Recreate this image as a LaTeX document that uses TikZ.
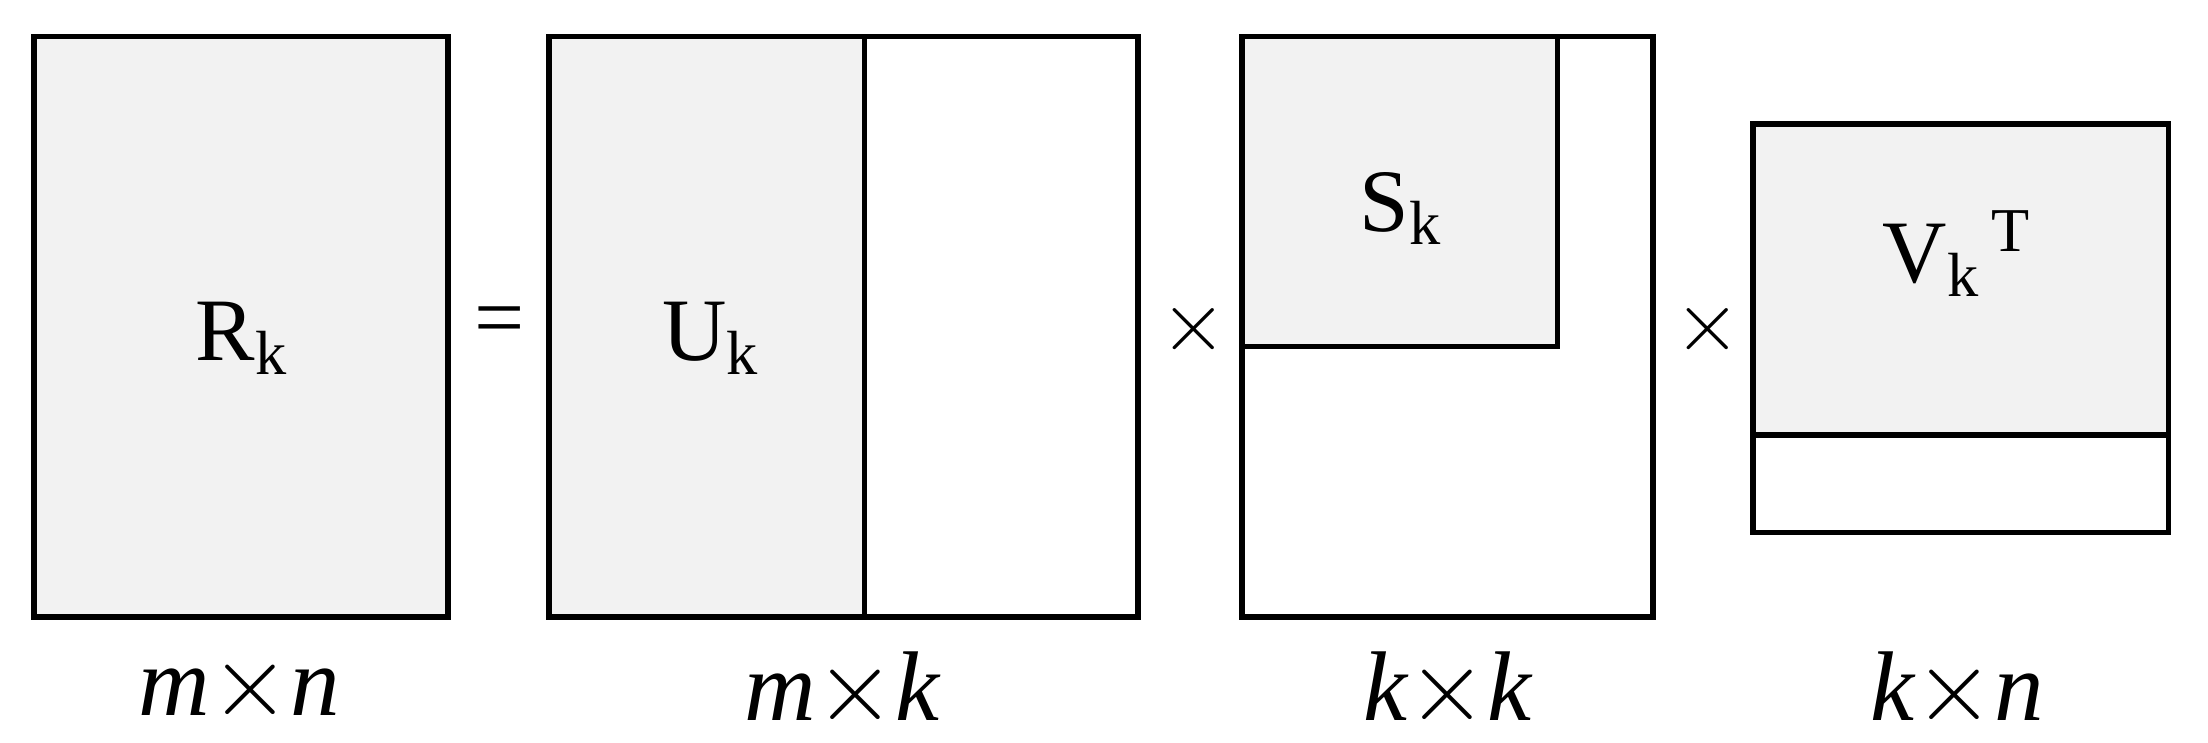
\documentclass[tikz,border=0pt]{standalone}
\usepackage{fontspec}
\setmainfont{Liberation Serif}
\begin{document}
\begin{tikzpicture}[x=0.01cm,y=-0.01cm,
  mat/.style={draw=black,line width=1.1pt},
  sh/.style={fill=gray!10},
  lab/.style={font=\fontsize{18}{20}\selectfont},
  dim/.style={font=\fontsize{20}{22}\selectfont\itshape}]
\useasboundingbox (0,0) rectangle (1568,527);
\path[mat,sh] (24,26) rectangle (318,438);
\node[lab] (r) at (172,240) {R\textsubscript{k}};
\node[lab] (eq) at (355,232) {=};
\path[mat,sh] (390,26) rectangle (614,438);
\path[mat] (614,26) rectangle (808,438);
\node[lab] (u) at (505,240) {U\textsubscript{k}};
\node[lab] (x1) at (848,234) {$\times$};
\path[mat] (882,26) rectangle (1174,438);
\path[mat,sh] (882,26) rectangle (1106,246);
\node[lab] (s) at (995,148) {S\textsubscript{k}};
\node[lab] (x2) at (1213,234) {$\times$};
\path[mat,sh] (1245,88) rectangle (1540,309);
\path[mat] (1245,309) rectangle (1540,378);
\node[lab] (v) at (1390,180) {V\textsubscript{k}\textsuperscript{\,T}};
\node[dim] (d1) at (170,490) {m$\times$n};
\node[dim] (d2) at (598,490) {m$\times$k};
\node[dim] (d3) at (1028,490) {k$\times$k};
\node[dim] (d4) at (1390,490) {k$\times$n};
\end{tikzpicture}
\end{document}
